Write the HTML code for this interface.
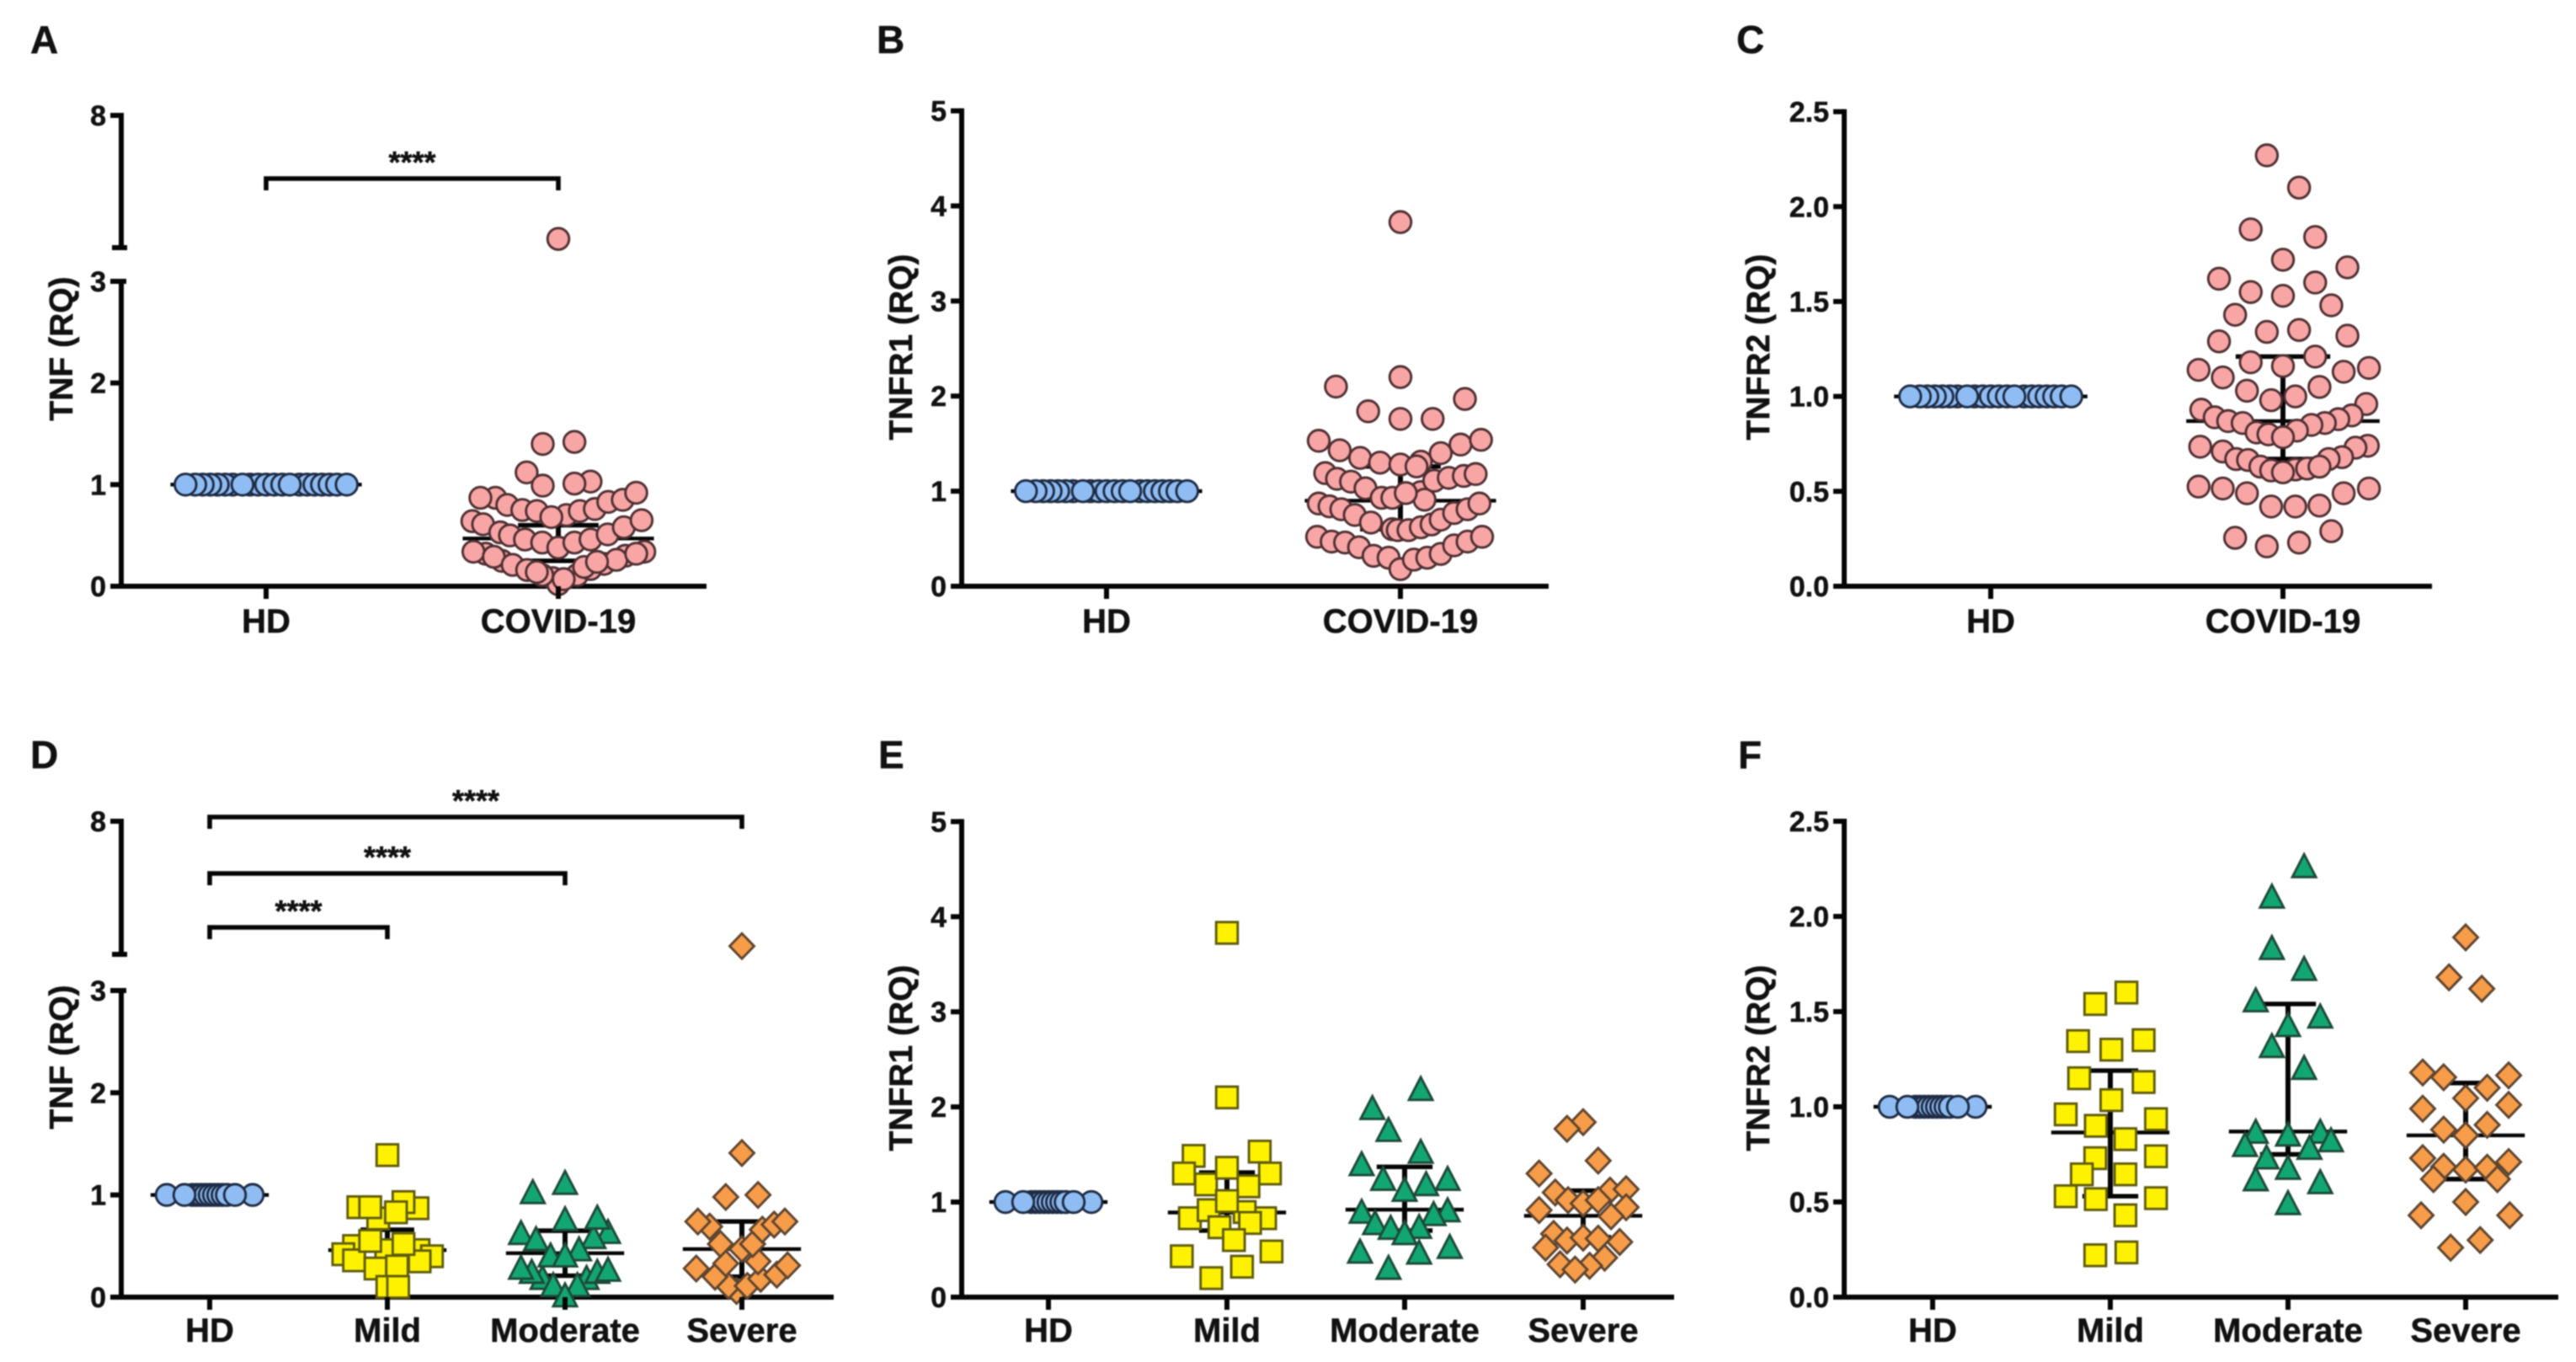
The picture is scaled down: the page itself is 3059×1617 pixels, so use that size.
<!DOCTYPE html>
<html lang="en">
<head>
<meta charset="utf-8">
<title>TNF, TNFR1 and TNFR2 expression panels</title>
<style>
html,body{margin:0;padding:0;background:#fff;width:3059px;height:1617px;overflow:hidden}
svg{display:block;filter:blur(0.8px)}
text{font-family:"Liberation Sans",Arial,sans-serif;font-weight:700;fill:#111;stroke:#111;stroke-width:0.5px}
</style>
</head>
<body>
<svg id="figure" xmlns="http://www.w3.org/2000/svg" width="3059" height="1617" viewBox="0 0 3059 1617"></svg>
<script>
// ---------- shared categories and tick labels ----------
const twoGroupCategories = ['HD', 'COVID-19'];
const fourGroupCategories = ['HD', 'Mild', 'Moderate', 'Severe'];
const tnfTicks = [0, 1, 2, 3, 8];
const tnfTickLabels = ['0', '1', '2', '3', '8'];
const tnfr1Ticks = [0, 1, 2, 3, 4, 5];
const tnfr1TickLabels = ['0', '1', '2', '3', '4', '5'];
const tnfr2Ticks = [0, 0.5, 1, 1.5, 2, 2.5];
const tnfr2TickLabels = ['0.0', '0.5', '1.0', '1.5', '2.0', '2.5'];

// ---------- healthy donors: value 1 for all, swarm slots shared ----------
const hdWideValues = [1,1,1,1,1,1,1,1,1,1,1,1,1,1,1,1,1,1,1,1,1];
const hdWideSlots = [-62,-76,-90,-104,-118,-132,62,76,90,104,118,132,-30,-15,0,15,30,-150,150,-44,44];
const hdNarrowValues = [1,1,1,1,1,1,1,1,1,1,1,1,1];
const hdNarrowSlots = [-32,-24,-16,-8,0,8,16,24,32,-80,80,-47,47];

// ---------- panel A: TNF, all patients ----------
const aCovidValues = [.32,.25,.22,.30,.34,.08,.02,.34,.29,.21,.16,.11,.11,.17,.26,.32,.07,.14,.19,.24,.64,.61,.53,.50,.46,.43,.38,.43,.46,.51,.58,.65,.87,.87,.80,.75,.74,.70,.68,.74,.76,.83,.85,.92,1.12,1.03,.99,1.01,1.40,1.42,3.33];
const aCovidSlots = [-135,-105,85,125,160,-10,0,-158,-120,-85,-58,-30,35,60,108,145,10,-40,48,72,-160,-140,-108,-90,-62,-30,0,30,60,92,122,155,-117,-145,-95,-67,-40,15,-13,40,68,93,120,145,-59,60,-29,30,-29,30,0];
const aMedians = [1, 0.47];
const aLower = [1, 0.25];
const aUpper = [1, 0.60];

// ---------- panel B: TNFR1, all patients ----------
const bCovidValues = [.52,.47,.46,.41,.32,.30,.18,.28,.30,.34,.43,.47,.52,.87,.84,.81,.75,.67,.60,.59,.59,.62,.65,.70,.77,.81,.87,1.19,1.13,1.10,1.03,.93,.93,.99,.91,.98,1.11,1.14,1.16,1.18,1.53,1.43,1.35,1.30,1.31,1.28,1.26,1.40,1.49,1.54,1.76,1.76,1.84,1.97,2.10,2.20,3.83];
const bCovidSlots = [-155,-128,-103,-77,-50,-22,0,25,50,75,100,125,152,-152,-132,-110,-85,-55,-15,-5,15,38,58,75,100,125,147,-140,-118,-92,-65,-35,-15,38,45,10,63,90,118,140,-152,-113,-75,-38,38,0,30,75,112,150,0,60,-60,120,-120,0,0];
const bMedians = [1, 0.90];
const bLower = [1, 0.60];
const bUpper = [1, 1.26];

// ---------- panel C: TNFR2, all patients ----------
const cCovidValues = [2.27,2.10,1.88,1.84,1.72,1.68,1.62,1.60,1.55,1.53,1.48,1.43,1.34,1.35,1.32,1.29,1.21,1.18,1.16,1.14,1.15,1.13,1.10,1.03,1.05,1.00,.98,.93,.96,.89,.87,.86,.90,.88,.86,.85,.81,.80,.82,.785,.735,.74,.71,.73,.67,.665,.68,.67,.63,.61,.615,.62,.63,.60,.525,.515,.49,.49,.515,.42,.42,.425,.29,.255,.23,.21];
const cCovidSlots = [-30,30,-60,60,0,120,-119,60,-60,0,90,-89,-30,30,120,-119,60,-60,0,-157,160,113,-112,-67,68,23,-22,-152,155,-127,-102,-75,128,103,78,53,-49,-27,26,0,-154,158,-112,135,-87,-65,110,85,-42,-22,23,45,68,0,-157,-112,-67,113,160,-22,23,68,90,-89,30,-30];
const cMedians = [1, 0.87];
const cLower = [1, 0.67];
const cUpper = [1, 1.21];

// ---------- panel D: TNF by severity ----------
const dMildValues = [.77,.50,.46,.42,.36,.46,.40,.35,.28,.30,.55,.52,.87,.88,.93,.88,.83,.10,.10,1.39];
const dMildSlots = [-17,-62,-2,-82,-62,58,83,60,-22,18,-32,30,56,-54,30,-32,16,0,20,0];
const dModerateValues = [.18,.24,.28,.11,.18,.24,.26,.11,.01,.62,.56,.63,.58,.46,.40,.40,.755,.77,1.02,1.11];
const dModerateSlots = [-42,-62,-82,-22,40,60,80,23,0,-82,-54,80,53,26,-27,0,0,60,-60,0];
const dSevereValues = [.06,.11,.11,.18,.20,.22,.28,.31,.33,.35,.47,.52,.52,.66,.69,.71,.74,.74,.98,1.00,1.41,3.31];
const dSevereSlots = [-10,-25,10,35,-50,65,-85,85,-30,30,0,-40,20,38,-60,60,-82,80,-30,30,0,0];
const dMedians = [1, 0.46, 0.43, 0.47];
const dLower = [1, 0.34, 0.21, 0.20];
const dUpper = [1, 0.66, 0.65, 0.74];

// ---------- panel E: TNFR1 by severity ----------
const eMildValues = [3.83,2.10,1.485,1.53,1.30,1.30,.83,.83,.915,.895,1.185,1.165,1.36,.735,.78,1.01,.60,.43,.48,.32,.20];
const eMildSlots = [0,0,-62,61,-80,80,-69,71,-34,33,-39,40,0,-14,43,0,13,-84,83,28,-29];
const eModerateValues = [2.18,1.98,1.75,1.52,1.39,1.235,1.235,1.18,1.12,.89,.905,.865,.77,.72,.73,.665,.47,.46,.52,.30];
const eModerateSlots = [30,-60,-30,30,-80,80,-40,40,0,-80,80,54,-55,-26,27,0,-83,27,84,-30];
const eSevereValues = [1.84,1.77,1.435,1.30,1.10,1.12,1.135,1.02,.985,1.02,.915,.945,.85,.665,.595,.625,.615,.58,.52,.415,.345,.33,.29];
const eSevereSlots = [0,-30,28,-82,-52,50,80,-28,0,28,-82,80,52,-55,-30,0,28,68,-70,40,-43,12,-15];
const eMedians = [1, 0.89, 0.92, 0.855];
const eLower = [1, 0.70, 0.70, 0.63];
const eUpper = [1, 1.31, 1.37, 1.12];

// ---------- panel F: TNFR2 by severity ----------
const fMildValues = [1.60,1.54,1.345,1.35,1.30,1.15,1.13,1.035,.96,.935,.90,.83,.74,.73,.645,.645,.53,.515,.52,.43,.22,.235];
const fMildSlots = [30,-28,-60,62,2,-58,62,2,-83,85,-27,28,85,-28,-53,28,-83,-27,85,28,-28,30];
const fModerateValues = [2.26,2.10,1.83,1.72,1.555,1.47,1.425,1.315,1.20,.865,.865,.85,.795,.82,.78,.73,.675,.615,.60,.49];
const fModerateSlots = [30,-30,-30,30,-60,60,0,-30,30,-60,60,0,-80,80,40,-40,0,-60,60,0];
const fSevereValues = [1.89,1.68,1.62,1.18,1.155,1.165,1.10,1.045,.99,1.01,.88,.905,.85,.73,.71,.685,.67,.68,.62,.62,.50,.43,.43,.30,.26];
const fSevereSlots = [0,-31,30,-80,-41,80,40,0,-80,80,-41,40,0,-80,80,-41,0,40,-60,59,0,-83,82,27,-28];
const fMedians = [1, 0.865, 0.87, 0.85];
const fLower = [1, 0.53, 0.75, 0.62];
const fUpper = [1, 1.19, 1.54, 1.125];

// ---------- styling and layout (not data) ----------
const swarmUnit = 0.638;
const groupStyles = {
  HD: {shape: 'circle', fill: '#8fbdf3', stroke: '#1f2c45'},
  'COVID-19': {shape: 'circle', fill: '#f8a5a5', stroke: '#4f3033'},
  Mild: {shape: 'square', fill: '#fff200', stroke: '#5f5c0c'},
  Moderate: {shape: 'triangle', fill: '#12a772', stroke: '#1d4a3a'},
  Severe: {shape: 'diamond', fill: '#f79c48', stroke: '#5e4530'}
};
const panels = [
  {id: 'a', letter: 'A', letterX: 36, letterY: 63, title: 'TNF (RQ)', titleX: 72, titleY: 414, axisX: 144, xStart: 131, xEnd: 839, catX: [316, 663],
   lower: {v0: 0, v1: 3, y0: 696, y1: 334}, upper: {v0: 3, v1: 8, y0: 294, y1: 137}, ticks: tnfTicks, tickLabels: tnfTickLabels, cats: twoGroupCategories,
   series: [[hdWideValues, hdWideSlots], [aCovidValues, aCovidSlots]], medians: aMedians, lowerQ: aLower, upperQ: aUpper, medianHalf: 178, capHalf: 75,
   labelY: 751, brackets: [[0, 1, 212, 14]]},
  {id: 'b', letter: 'B', letterX: 1041, letterY: 63, title: 'TNFR1 (RQ)', titleX: 1069, titleY: 412, axisX: 1142, xStart: 1131, xEnd: 1839, catX: [1314, 1663],
   lower: {v0: 0, v1: 5, y0: 696, y1: 131.6}, ticks: tnfr1Ticks, tickLabels: tnfr1TickLabels, cats: twoGroupCategories,
   series: [[hdWideValues, hdWideSlots], [bCovidValues, bCovidSlots]], medians: bMedians, lowerQ: bLower, upperQ: bUpper, medianHalf: 178, capHalf: 75,
   labelY: 751, brackets: []},
  {id: 'c', letter: 'C', letterX: 2062, letterY: 63, title: 'TNFR2 (RQ)', titleX: 2087, titleY: 412, axisX: 2190, xStart: 2177, xEnd: 2888, catX: [2364, 2711],
   lower: {v0: 0, v1: 2.5, y0: 696, y1: 132.6}, ticks: tnfr2Ticks, tickLabels: tnfr2TickLabels, cats: twoGroupCategories,
   series: [[hdWideValues, hdWideSlots], [cCovidValues, cCovidSlots]], medians: cMedians, lowerQ: cLower, upperQ: cUpper, medianHalf: 180, capHalf: 88,
   labelY: 751, brackets: []},
  {id: 'd', letter: 'D', letterX: 36, letterY: 912, title: 'TNF (RQ)', titleX: 72, titleY: 1255, axisX: 144, xStart: 131, xEnd: 990, catX: [249, 460, 671, 881],
   lower: {v0: 0, v1: 3, y0: 1540, y1: 1176}, upper: {v0: 3, v1: 8, y0: 1133, y1: 975}, ticks: tnfTicks, tickLabels: tnfTickLabels, cats: fourGroupCategories,
   series: [[hdNarrowValues, hdNarrowSlots], [dMildValues, dMildSlots], [dModerateValues, dModerateSlots], [dSevereValues, dSevereSlots]], medians: dMedians, lowerQ: dLower, upperQ: dUpper, medianHalf: 110, capHalf: 50,
   labelY: 1593, brackets: [[0, 3, 970, 14], [0, 2, 1037, 14], [0, 1, 1101, 14]]},
  {id: 'e', letter: 'E', letterX: 1043, letterY: 912, title: 'TNFR1 (RQ)', titleX: 1069, titleY: 1256, axisX: 1142, xStart: 1131, xEnd: 1988, catX: [1245, 1457, 1668, 1880],
   lower: {v0: 0, v1: 5, y0: 1540, y1: 975.4}, ticks: tnfr1Ticks, tickLabels: tnfr1TickLabels, cats: fourGroupCategories,
   series: [[hdNarrowValues, hdNarrowSlots], [eMildValues, eMildSlots], [eModerateValues, eModerateSlots], [eSevereValues, eSevereSlots]], medians: eMedians, lowerQ: eLower, upperQ: eUpper, medianHalf: 110, capHalf: 52,
   labelY: 1593, brackets: []},
  {id: 'f', letter: 'F', letterX: 2064, letterY: 912, title: 'TNFR2 (RQ)', titleX: 2087, titleY: 1256, axisX: 2190, xStart: 2177, xEnd: 3038, catX: [2295, 2506, 2717, 2928],
   lower: {v0: 0, v1: 2.5, y0: 1540, y1: 975}, ticks: tnfr2Ticks, tickLabels: tnfr2TickLabels, cats: fourGroupCategories,
   series: [[hdNarrowValues, hdNarrowSlots], [fMildValues, fMildSlots], [fModerateValues, fModerateSlots], [fSevereValues, fSevereSlots]], medians: fMedians, lowerQ: fLower, upperQ: fUpper, medianHalf: 110, capHalf: 52,
   labelY: 1593, brackets: []}
];

// ---------- drawing ----------
const SVG_NS = 'http://www.w3.org/2000/svg';
const figure = document.getElementById('figure');

function svgEl(parent, tag, attrs, text) {
  const node = document.createElementNS(SVG_NS, tag);
  for (const key in attrs) node.setAttribute(key, attrs[key]);
  if (text !== undefined) node.textContent = text;
  parent.appendChild(node);
  return node;
}
function yScale(p) {
  return function (v) {
    const seg = (p.upper && v > p.lower.v1) ? p.upper : p.lower;
    return seg.y0 + (v - seg.v0) / (seg.v1 - seg.v0) * (seg.y1 - seg.y0);
  };
}
function xScale(p) {
  return function (catIndex, slot) { return p.catX[catIndex] + (slot || 0) * swarmUnit; };
}
function strokeLine(parent, x1, y1, x2, y2, width) {
  return svgEl(parent, 'line', {x1: x1, y1: y1, x2: x2, y2: y2, stroke: '#050505', 'stroke-width': width});
}
function drawMarker(parent, style, x, y) {
  const paint = {fill: style.fill, stroke: style.stroke, 'stroke-width': 2.9};
  if (style.shape === 'circle') {
    return svgEl(parent, 'circle', Object.assign({cx: x, cy: y, r: 12.8}, paint));
  }
  if (style.shape === 'square') {
    return svgEl(parent, 'rect', Object.assign({x: x - 12.8, y: y - 12.8, width: 25.6, height: 25.6}, paint));
  }
  if (style.shape === 'triangle') {
    return svgEl(parent, 'polygon', Object.assign({points: (x) + ',' + (y - 15) + ' ' + (x + 14) + ',' + (y + 12) + ' ' + (x - 14) + ',' + (y + 12)}, paint));
  }
  return svgEl(parent, 'polygon', Object.assign({points: x + ',' + (y - 15) + ' ' + (x + 14.5) + ',' + y + ' ' + x + ',' + (y + 15) + ' ' + (x - 14.5) + ',' + y}, paint));
}

panels.forEach(function (p) {
  const y = yScale(p);
  const x = xScale(p);
  const group = svgEl(figure, 'g', {});
  
  

  const letter = svgEl(group, 'text', {x: p.letterX, y: p.letterY, 'font-size': 46}, p.letter);
  
  

  const title = svgEl(group, 'text', {x: 0, y: 0, 'font-size': 39, 'text-anchor': 'middle', transform: 'translate(' + (p.titleX + 14) + ',' + p.titleY + ') rotate(-90)'}, p.title);
  
  

  // y axis (one or two segments)
  const lowerAxis = strokeLine(group, p.axisX, p.lower.y1 - 3, p.axisX, p.lower.y0 + 3, 6);
  
  
  if (p.upper) {
    const upperAxis = strokeLine(group, p.axisX, p.upper.y1 - 3, p.axisX, p.upper.y0 + 3, 6);
    
    
    const breakEnd = strokeLine(group, p.axisX - 11, p.upper.y0, p.axisX + 7, p.upper.y0, 6);
    
    
  }
  p.ticks.forEach(function (t, i) {
    const ty = y(t);
    const isSegmentEnd = p.upper && t === p.lower.v1;
    const tick = strokeLine(group, p.axisX - 13, ty, p.axisX + (isSegmentEnd ? 6 : 0), ty, 6);
    
    
    const label = svgEl(group, 'text', {x: p.axisX - 18, y: ty + 12, 'font-size': 34, 'text-anchor': 'end'}, p.tickLabels[i]);
    
    
  });

  // error bars sit below the points
  p.cats.forEach(function (cat, i) {
    const cx = x(i);
    const median = strokeLine(group, x(i, -p.medianHalf), y(p.medians[i]), x(i, p.medianHalf), y(p.medians[i]), 4.4);
    
    
    if (p.upperQ[i] !== p.lowerQ[i]) {
      const stem = strokeLine(group, cx, y(p.upperQ[i]), cx, y(p.lowerQ[i]), 6);
      
      
      const capHigh = strokeLine(group, x(i, -p.capHalf), y(p.upperQ[i]), x(i, p.capHalf), y(p.upperQ[i]), 5.4);
      
      
      const capLow = strokeLine(group, x(i, -p.capHalf), y(p.lowerQ[i]), x(i, p.capHalf), y(p.lowerQ[i]), 5.4);
      
      
    }
  });

  // x axis
  const xAxis = strokeLine(group, p.xStart, p.lower.y0, p.xEnd, p.lower.y0, 6);
  
  

  // points
  p.series.forEach(function (pair, i) {
    const cat = p.cats[i];
    const style = groupStyles[cat];
    pair[0].forEach(function (value, j) {
      const marker = drawMarker(group, style, x(i, pair[1][j]), y(value));
      
      
    });
  });

  // x ticks and labels (drawn over low points, as in the source figure)
  p.cats.forEach(function (cat, i) {
    const tick = strokeLine(group, x(i), p.lower.y0, x(i), p.lower.y0 + 15, 6);
    
    
    const label = svgEl(group, 'text', {x: x(i), y: p.labelY, 'font-size': 40, 'text-anchor': 'middle'}, cat);
    
    
  });

  // significance brackets
  p.brackets.forEach(function (b) {
    const x1 = x(b[0]);
    const x2 = x(b[1]);
    const path = svgEl(group, 'path', {d: 'M' + x1 + ' ' + (b[2] + b[3]) + 'V' + b[2] + 'H' + x2 + 'V' + (b[2] + b[3]), fill: 'none', stroke: '#050505', 'stroke-width': 5.6});
    
    
    const stars = svgEl(group, 'text', {x: (x1 + x2) / 2, y: b[2] - 7, 'font-size': 36, 'text-anchor': 'middle'}, '****');
    
    
  });
});
</script>
</body>
</html>
